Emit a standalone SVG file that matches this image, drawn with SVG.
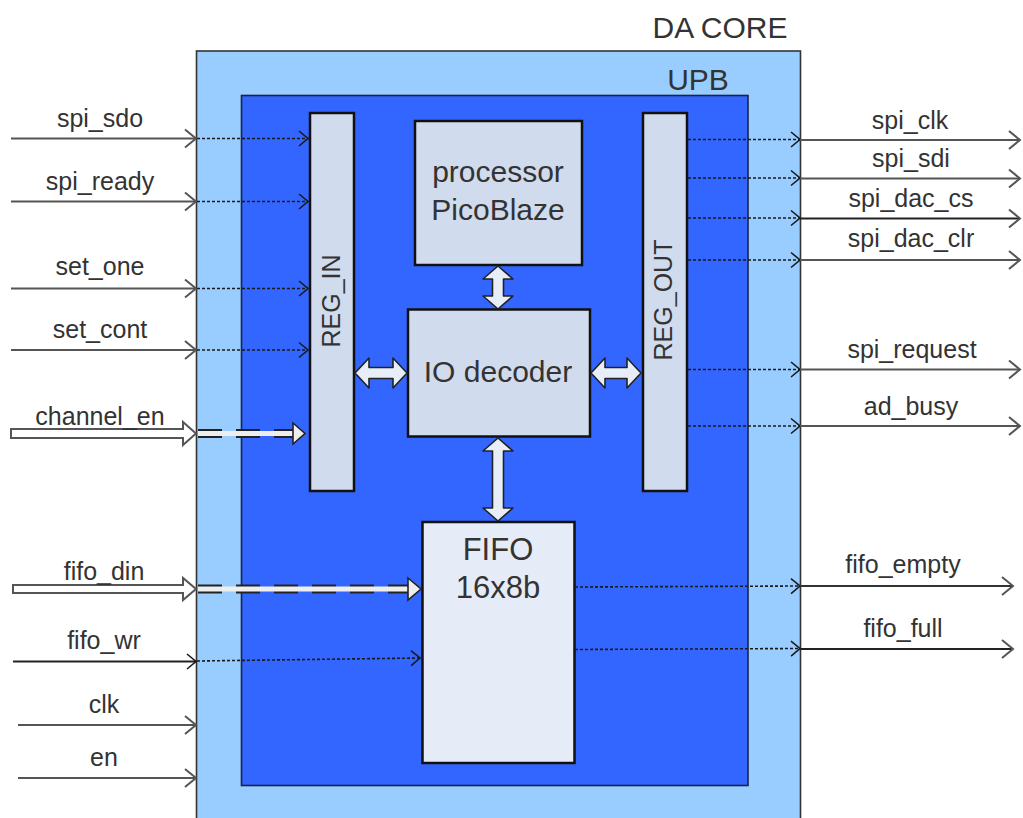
<svg xmlns="http://www.w3.org/2000/svg" width="1023" height="818" viewBox="0 0 1023 818">
<style>
text{font-family:"Liberation Sans",Arial,sans-serif;fill:#333}
.lbl{font-size:25px;text-anchor:middle}
.big{font-size:30px;text-anchor:middle}
.blk{fill:#D0DBEE;stroke:#111;stroke-width:2.5}
.ext{fill:none;stroke:#555;stroke-width:2.2}
.dot{fill:none;stroke:#1a1a1a;stroke-width:1.6;stroke-dasharray:3 2}
.dbl{fill:#E8EEF8;stroke:#222;stroke-width:1.6;stroke-linejoin:round}
.busout{fill:#fff;stroke:#555;stroke-width:2}
.busdash{fill:none;stroke:#222;stroke-width:9;stroke-dasharray:24 14}
.buslight{fill:none;stroke:#EEEEEE;stroke-width:5}
</style>
<defs>
<marker id="chg" markerWidth="16" markerHeight="24" refX="13" refY="11" orient="auto" markerUnits="userSpaceOnUse">
<path d="M2,2 L13,11 L2,20" fill="none" stroke="#555" stroke-width="2"/>
</marker>
<marker id="chd" markerWidth="14" markerHeight="20" refX="11" refY="9" orient="auto" markerUnits="userSpaceOnUse">
<path d="M2,1.5 L11,9 L2,16.5" fill="none" stroke="#1a1a1a" stroke-width="1.6"/>
</marker>
</defs>
<rect width="1023" height="818" fill="#fff"/>

<g id="da_core">
<rect x="196.5" y="51" width="604" height="790" fill="#99CCFF" stroke="#333" stroke-width="1.6"/>
<text class="big" x="720" y="38">DA CORE</text>
</g>
<g id="upb">
<rect x="241.5" y="95.5" width="506.5" height="690" fill="#3366FF" stroke="#1a2440" stroke-width="1.6"/>
<text class="big" x="698" y="90">UPB</text>
</g>
<g id="reg_in">
<rect class="blk" x="310" y="113" width="44" height="378"/>
<text class="lbl" transform="rotate(-90 340 301)" x="340" y="301">REG_IN</text>
</g>
<g id="reg_out">
<rect class="blk" x="643" y="113" width="44" height="378"/>
<text class="lbl" transform="rotate(-90 672 300)" x="672" y="300">REG_OUT</text>
</g>
<g id="picoblaze">
<rect class="blk" x="415" y="121" width="167" height="144"/>
<text class="big" x="498" y="182">processor</text>
<text class="big" x="498" y="220">PicoBlaze</text>
</g>
<g id="io_decoder">
<rect class="blk" x="408" y="309.5" width="182" height="127"/>
<text class="big" x="498" y="382">IO decoder</text>
</g>
<g id="fifo">
<rect class="blk" x="422.5" y="522" width="152" height="241" fill="#E6ECF7" style="fill:#E6ECF7"/>
<text class="big" x="498" y="560" style="font-size:31px">FIFO</text>
<text class="big" x="498" y="598" style="font-size:31px">16x8b</text>
</g>

<g id="connectors">
<!-- double arrows -->
<polygon class="dbl" points="498,266 513,279 503.5,279 503.5,296 513,296 498,309 483,296 492.5,296 492.5,279 483,279"/>
<polygon class="dbl" points="498,438 513,451 503.5,451 503.5,508 513,508 498,521 483,508 492.5,508 492.5,451 483,451"/>
<polygon class="dbl" points="355,373 369,358 369,367.5 393,367.5 393,358 407,373 393,388 393,378.5 369,378.5 369,388"/>
<polygon class="dbl" points="591,373 605,358 605,367.5 627,367.5 627,358 641,373 627,388 627,378.5 605,378.5 605,388"/>

<!-- left inputs -->
<line class="ext" x1="11" y1="138.5" x2="196" y2="138.5" marker-end="url(#chg)"/>
<line class="dot" x1="197" y1="138.5" x2="308" y2="138.5" marker-end="url(#chd)"/>
<line class="ext" x1="11" y1="201.5" x2="196" y2="201.5" marker-end="url(#chg)"/>
<line class="dot" x1="197" y1="201.5" x2="308" y2="201.5" marker-end="url(#chd)"/>
<line class="ext" x1="11" y1="288.5" x2="196" y2="288.5" marker-end="url(#chg)"/>
<line class="dot" x1="197" y1="288.5" x2="308" y2="288.5" marker-end="url(#chd)"/>
<line class="ext" x1="11" y1="350" x2="196" y2="350" marker-end="url(#chg)"/>
<line class="dot" x1="197" y1="350" x2="308" y2="350" marker-end="url(#chd)"/>

<!-- channel_en bus -->
<polygon class="busout" points="11,429 183,429 183,422 196,433.5 183,445 183,438 11,438"/>
<line class="busdash" x1="198" y1="433.5" x2="294" y2="433.5"/>
<line class="buslight" x1="198" y1="433.5" x2="294" y2="433.5"/>
<polygon points="293,423 305,433.5 293,444" fill="#EEEEEE" stroke="#222" stroke-width="1.6"/>

<!-- fifo_din bus -->
<polygon class="busout" points="13,585 183,585 183,578 196,589 183,600 183,593 13,593"/>
<line class="busdash" x1="198" y1="589" x2="409" y2="589"/>
<line class="buslight" x1="198" y1="589" x2="409" y2="589"/>
<polygon points="408,578 421,589 408,600" fill="#EEEEEE" stroke="#222" stroke-width="1.6"/>

<!-- fifo_wr -->
<line x1="13" y1="661.5" x2="196" y2="661.5" fill="none" stroke="#222" stroke-width="1.8" marker-end="url(#chd)"/>
<line class="dot" x1="197" y1="661" x2="420" y2="658" marker-end="url(#chd)"/>

<!-- clk, en -->
<line class="ext" x1="18" y1="725" x2="196" y2="725" marker-end="url(#chg)"/>
<line class="ext" x1="18" y1="778" x2="196" y2="778" marker-end="url(#chg)"/>

<!-- right outputs -->
<line class="dot" x1="688" y1="139.5" x2="800" y2="139.5" marker-end="url(#chd)"/>
<line class="ext" x1="800" y1="140" x2="1020" y2="140" marker-end="url(#chg)"/>
<line class="dot" x1="688" y1="178" x2="800" y2="178" marker-end="url(#chd)"/>
<line class="ext" x1="800" y1="178.5" x2="1020" y2="178.5" marker-end="url(#chg)"/>
<line class="dot" x1="688" y1="218" x2="800" y2="218" marker-end="url(#chd)"/>
<line x1="800" y1="218.5" x2="1020" y2="218.5" stroke="#222" stroke-width="1.8" marker-end="url(#chg)"/>
<line class="dot" x1="688" y1="260" x2="800" y2="260" marker-end="url(#chd)"/>
<line class="ext" x1="800" y1="260" x2="1020" y2="260" marker-end="url(#chg)"/>
<line class="dot" x1="688" y1="369.5" x2="800" y2="369.5" marker-end="url(#chd)"/>
<line class="ext" x1="800" y1="369.5" x2="1020" y2="369.5" marker-end="url(#chg)"/>
<line class="dot" x1="688" y1="426" x2="800" y2="426" marker-end="url(#chd)"/>
<line class="ext" x1="800" y1="426" x2="1020" y2="426" marker-end="url(#chg)"/>
<line class="dot" x1="575" y1="587" x2="800" y2="586" marker-end="url(#chd)"/>
<line x1="800" y1="586" x2="1013" y2="586" stroke="#333" stroke-width="1.8" marker-end="url(#chg)"/>
<line class="dot" x1="575" y1="649.5" x2="800" y2="648.5" marker-end="url(#chd)"/>
<line x1="800" y1="649" x2="1013" y2="649" stroke="#222" stroke-width="1.8" marker-end="url(#chg)"/>
</g>

<g id="labels">
<text class="lbl" x="100" y="127">spi_sdo</text>
<text class="lbl" x="100" y="190">spi_ready</text>
<text class="lbl" x="100" y="275">set_one</text>
<text class="lbl" x="100" y="338">set_cont</text>
<text class="lbl" x="100" y="425">channel_en</text>
<text class="lbl" x="104" y="580">fifo_din</text>
<text class="lbl" x="104" y="649">fifo_wr</text>
<text class="lbl" x="104" y="713">clk</text>
<text class="lbl" x="104" y="766">en</text>
<text class="lbl" x="910" y="129">spi_clk</text>
<text class="lbl" x="911" y="167">spi_sdi</text>
<text class="lbl" x="911" y="207">spi_dac_cs</text>
<text class="lbl" x="911" y="247">spi_dac_clr</text>
<text class="lbl" x="912" y="358">spi_request</text>
<text class="lbl" x="911" y="415">ad_busy</text>
<text class="lbl" x="903" y="573">fifo_empty</text>
<text class="lbl" x="903" y="637">fifo_full</text>
</g>
</svg>
